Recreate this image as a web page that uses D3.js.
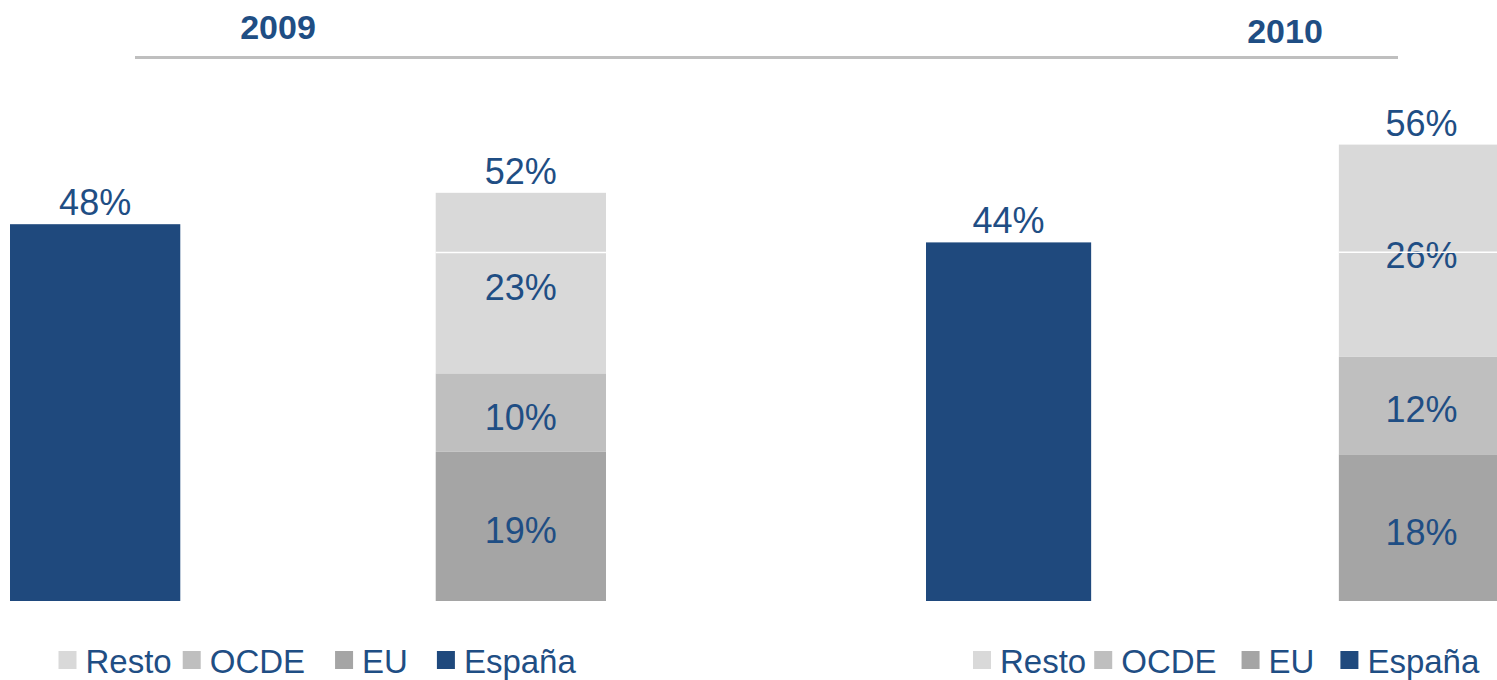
<!DOCTYPE html>
<html>
<head>
<meta charset="utf-8">
<script src="https://cdn.jsdelivr.net/npm/d3@7/dist/d3.min.js"></script>
<style>
  html, body { margin: 0; padding: 0; background: #fff; }
  svg { display: block; font-family: "Liberation Sans", Arial, sans-serif; }
</style>
</head>
<body>
<svg id="chart" width="1497" height="680"></svg>
<script>
// values
const years = ['2009', '2010']
const barCategories = ['España', 'Internacional']
const espana = [48, 44]
const eu = [19, 18]
const ocde = [10, 12]
const resto = [23, 26]
const restoDivider = [44.4, 42.8]   // thin white rule inside the Resto block
const legendNames = ['Resto', 'OCDE', 'EU', 'España']

const colors = {
  'España': '#1f497d',
  EU: '#a5a5a5',
  OCDE: '#bfbfbf',
  Resto: '#d9d9d9'
}
const textColor = '#1f4e84'

const width = 1497
const height = 680
const baseline = 601

// one entry per year panel
const layout = [
  { x0: 10, x1: 606, yTop: 130, titleX: 278, titleY: 39, legendX: 58.5, gaps: [11, 30, 29] },
  { x0: 926, x1: 1504, yTop: 112, titleX: 1285, titleY: 43, legendX: 973, gaps: [8, 25, 26] }
]

const svg = d3.select('#chart')
  .attr('width', width)
  .attr('height', height)

// rule under the year titles
svg.append('line')
  .attr('x1', 135)
  .attr('x2', 1398)
  .attr('y1', 57.5)
  .attr('y2', 57.5)
  .style('stroke', '#bfbfbf')
  .style('stroke-width', 3)

const stackKeys = ['EU', 'OCDE', 'Resto']
const rows = years.map((year, i) => ({ year: year, EU: eu[i], OCDE: ocde[i], Resto: resto[i] }))
const stacked = d3.stack().keys(stackKeys)(rows)

years.forEach((year, i) => {
  const conf = layout[i]
  const g = svg.append('g').attr('class', `panel-${year}`)

  const x = d3.scaleBand()
    .domain(barCategories)
    .range([conf.x0, conf.x1])
    .paddingInner(0.6)
    .paddingOuter(0)

  const y = d3.scaleLinear()
    .domain([0, 60])
    .range([baseline, conf.yTop])

  // year title
  g.append('text')
    .text(year)
    .attr('x', conf.titleX)
    .attr('y', conf.titleY)
    .attr('text-anchor', 'middle')
    .style('font-size', '34px')
    .style('font-weight', 'bold')
    .style('fill', textColor)

  // España bar
  g.append('rect')
    .attr('x', x('España'))
    .attr('y', y(espana[i]))
    .attr('width', x.bandwidth())
    .attr('height', y(0) - y(espana[i]))
    .attr('fill', colors['España'])

  g.append('text')
    .text(`${espana[i]}%`)
    .attr('x', x('España') + x.bandwidth() / 2)
    .attr('y', y(espana[i]) - 9)
    .attr('text-anchor', 'middle')
    .style('font-size', '36px')
    .style('fill', textColor)

  // stacked bar
  stacked.forEach(layer => {
    const d = layer[i]
    g.append('rect')
      .attr('x', x('Internacional'))
      .attr('y', y(d[1]))
      .attr('width', x.bandwidth())
      .attr('height', y(d[0]) - y(d[1]))
      .attr('fill', colors[layer.key])

    g.append('text')
      .text(`${d[1] - d[0]}%`)
      .attr('x', x('Internacional') + x.bandwidth() / 2)
      .attr('y', (y(d[0]) + y(d[1])) / 2 + 17)
      .attr('text-anchor', 'middle')
      .style('font-size', '36px')
      .style('fill', textColor)
  })

  g.append('line')
    .attr('x1', x('Internacional'))
    .attr('x2', x('Internacional') + x.bandwidth())
    .attr('y1', y(restoDivider[i]))
    .attr('y2', y(restoDivider[i]))
    .style('stroke', '#fff')
    .style('stroke-width', 1.5)

  const total = eu[i] + ocde[i] + resto[i]
  g.append('text')
    .text(`${total}%`)
    .attr('x', x('Internacional') + x.bandwidth() / 2)
    .attr('y', y(total) - 9)
    .attr('text-anchor', 'middle')
    .style('font-size', '36px')
    .style('fill', textColor)

  // legend, laid out left to right
  let lx = conf.legendX
  legendNames.forEach((name, k) => {
    g.append('rect')
      .attr('x', lx)
      .attr('y', 651)
      .attr('width', 18)
      .attr('height', 18)
      .attr('fill', colors[name])

    const t = g.append('text')
      .text(name)
      .attr('x', lx + 27)
      .attr('y', 673)
      .style('font-size', '33px')
      .style('fill', textColor)

    lx = lx + 27 + t.node().getComputedTextLength() + (conf.gaps[k] || 0)
  })
})
</script>
</body>
</html>
